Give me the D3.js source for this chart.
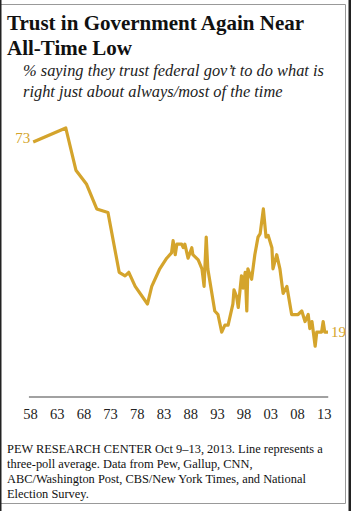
<!DOCTYPE html>
<html lang="en">
<head>
<meta charset="UTF-8"/>
<title>Trust in Government Again Near All-Time Low</title>
<script src="https://d3js.org/d3.v7.min.js"></script>
<style>
  body { margin: 0; background: #fff; }
  svg text { font-family: "Liberation Serif", "Times New Roman", serif; }
</style>
</head>
<body>
<div id="chart"></div>
<script>
// poll dates (fractional years) and % who trust the government, three-poll average
const pollDates = [1958.6, 1964.7, 1966.6, 1968.6, 1970.5, 1972.6, 1974.7, 1975.8, 1976.5, 1977.7,
  1980.0, 1980.8, 1982.3, 1983.6, 1984.5, 1984.8, 1985.2, 1985.5, 1986.4, 1986.7,
  1987.0, 1987.6, 1988.3, 1988.5, 1989.5, 1990.2, 1990.6, 1991.0, 1991.3, 1992.6,
  1993.2, 1993.9, 1994.5, 1995.1, 1996.0, 1996.2, 1996.7, 1997.0, 1997.6, 1997.9,
  1998.3, 1998.6, 1998.8, 1999.5, 2000.1, 2000.7, 2001.1, 2001.7, 2002.2, 2002.6,
  2003.3, 2003.5, 2004.2, 2004.8, 2005.4, 2006.1, 2007.0, 2008.2, 2008.9, 2009.5,
  2010.1, 2010.4, 2010.8, 2011.4, 2011.7, 2012.6, 2012.9, 2013.2, 2013.8];
const trustValues = [73, 77, 65, 61, 54, 53, 36, 35, 36, 32,
  27, 32, 37, 40, 41.5, 45, 41, 44, 44, 43,
  44, 40, 43, 41, 39.5, 37, 32, 46, 37, 25,
  24, 19, 21, 21, 27, 31, 29, 26, 35, 31.5,
  36, 25, 37, 34, 41, 46, 47, 54, 46, 46.5,
  43, 37, 41, 37, 30, 32, 24, 24, 25, 22,
  24, 20, 22, 15, 19, 19, 22, 19, 19];

const tickYears = [1958, 1963, 1968, 1973, 1978, 1983, 1988, 1993, 1998, 2003, 2008, 2013];
const tickLabels = ["58", "63", "68", "73", "78", "83", "88", "93", "98", "03", "08", "13"];

const titleLines = ["Trust in Government Again Near", "All-Time Low"];
const subtitleLines = ["% saying they trust federal gov\u2019t to do what is",
  "right just about always/most of the time"];
const noteLines = ["PEW RESEARCH CENTER Oct 9\u201313, 2013. Line represents a",
  "three-poll average. Data from Pew, Gallup, CNN,",
  "ABC/Washington Post, CBS/New York Times, and National",
  "Election Survey."];

const width = 351, height = 511;
const gold = "#d4a42c";

const svg = d3.select("#chart")
  .append("svg")
    .attr("width", width)
    .attr("height", height);

// frame
svg.append("rect").attr("x", 0).attr("y", 0).attr("width", width).attr("height", height).attr("fill", "#fff");
svg.append("path")
  .attr("d", "M0,4.5H345.5V503.5H0")
  .attr("fill", "none")
  .attr("stroke", "#999")
  .attr("stroke-width", 1);
svg.append("rect").attr("x", 0).attr("y", 0).attr("width", 1.5).attr("height", height).attr("fill", "#222");
svg.append("rect").attr("x", 348.5).attr("y", 0).attr("width", 2.5).attr("height", height).attr("fill", "#222");

// title
svg.append("g")
  .selectAll("text")
  .data(titleLines)
  .join("text")
    .attr("x", 7)
    .attr("y", (d, i) => 30 + i * 25)
    .attr("font-size", 21)
    .attr("font-weight", "bold")
    .attr("fill", "#111")
    .text(d => d);

// subtitle
svg.append("g")
  .selectAll("text")
  .data(subtitleLines)
  .join("text")
    .attr("x", 23)
    .attr("y", (d, i) => 76 + i * 21)
    .attr("font-size", 16.4)
    .attr("font-style", "italic")
    .attr("fill", "#222")
    .text(d => d);

// scales
const x = d3.scaleLinear()
  .domain([1958, 2013])
  .range([30, 323.7]);
const y = d3.scaleLinear()
  .domain([0, 77])
  .range([399, 128]);

// x axis
const xAxis = svg.append("g")
  .attr("transform", "translate(0,397)")
  .call(d3.axisBottom(x)
    .tickValues(tickYears)
    .tickFormat((d, i) => tickLabels[i])
    .tickSize(0));
xAxis.select(".domain").remove();
xAxis.selectAll("text")
  .attr("y", 22)
  .attr("dy", 0)
  .attr("font-size", 14.5)
  .attr("fill", "#222");
xAxis.append("line")
  .attr("x1", x(1957.8))
  .attr("x2", x(2013.85))
  .attr("stroke", "#444")
  .attr("stroke-width", 1.2);

// the line
const points = pollDates.map((d, i) => [d, trustValues[i]]);
svg.append("path")
  .datum(points)
  .attr("fill", "none")
  .attr("stroke", gold)
  .attr("stroke-width", 3.2)
  .attr("stroke-linejoin", "round")
  .attr("d", d3.line().x(d => x(d[0])).y(d => y(d[1])));

// end labels
const first = points[0], last = points[points.length - 1];
svg.append("text")
  .attr("x", x(first[0]) - 3)
  .attr("y", y(first[1]) + 1)
  .attr("text-anchor", "end")
  .attr("font-size", 15)
  .attr("fill", gold)
  .text(first[1]);
svg.append("text")
  .attr("x", x(last[0]) + 3)
  .attr("y", y(last[1]) + 5)
  .attr("font-size", 15)
  .attr("fill", gold)
  .text(last[1]);

// source note
svg.append("g")
  .selectAll("text")
  .data(noteLines)
  .join("text")
    .attr("x", 7)
    .attr("y", (d, i) => 453 + i * 15)
    .attr("font-size", 12.4)
    .attr("fill", "#111")
    .text(d => d);
</script>
</body>
</html>
